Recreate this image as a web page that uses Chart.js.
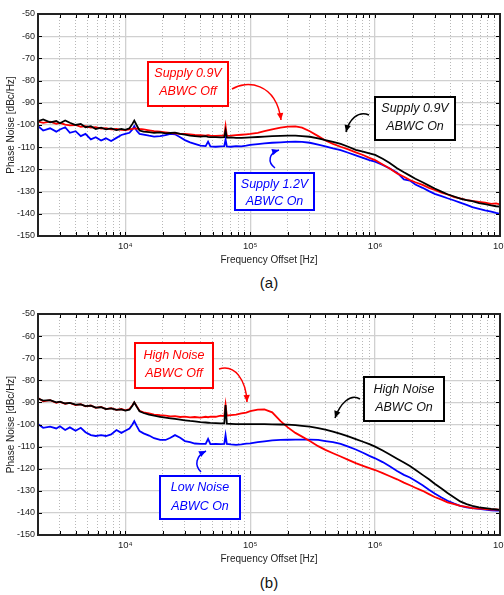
<!DOCTYPE html>
<html>
<head>
<meta charset="utf-8">
<script src="https://cdn.jsdelivr.net/npm/chart.js@4.4.0/dist/chart.umd.min.js"></script>
<style>
    html, body { margin: 0; padding: 0; background: #fff; }
    #wrap { position: relative; width: 504px; height: 595px; overflow: hidden; }
    canvas { position: absolute; left: 0; }
    #chartA { top: 0; }
    #chartB { top: 300px; }
    .cap { position: absolute; width: 40px; text-align: center; font: 15px 'Liberation Sans', Arial, sans-serif; line-height: 18px; color: #111; }
</style>
</head>
<body>
<div id="wrap">
    <canvas id="chartA" width="504" height="270"></canvas>
    <canvas id="chartB" width="504" height="270"></canvas>
    <div class="cap" style="left:249px; top:274px;">(a)</div>
    <div class="cap" style="left:249px; top:574px;">(b)</div>
</div>
<script>
// offset frequency points [Hz], shared by every trace
const freqs = [
    2000, 2200, 2500, 2800, 3000, 3300, 3600, 4000, 4400, 4800,
    5300, 5800, 6400, 7000, 7700, 8500, 9300, 10000, 10800, 11400,
    11800, 12300, 13000, 14000, 15500, 17000, 19000, 21000, 23000, 25000,
    27500, 30000, 33000, 36000, 40000, 44000, 46000, 48000, 53000, 58000,
    62000, 63500, 65000, 70000, 77000, 85000, 93000, 100000, 115000, 130000,
    150000, 175000, 200000, 230000, 260000, 300000, 350000, 400000, 460000, 530000,
    610000, 700000, 800000, 900000, 1000000, 1150000, 1300000, 1500000, 1700000, 1900000,
    2100000, 2400000, 2700000, 3000000, 3400000, 3800000, 4300000, 4800000, 5400000, 6000000,
    6800000, 7600000, 8500000, 9300000, 10000000
];

// (a) Supply 0.9V ABWC On
const blackA = [
    -98.3, -97.5, -98.8, -98.2, -99.2, -98.0, -99.0, -100.0, -99.5, -101.0,
    -100.5, -101.8, -101.2, -102.0, -101.5, -102.3, -101.8, -102.2, -101.5, -99.5,
    -98.0, -100.0, -102.5, -103.0, -103.2, -103.5, -103.3, -103.8, -103.6, -103.4,
    -104.0, -104.3, -104.8, -105.0, -105.2, -105.0, -105.3, -105.5, -105.5, -105.6,
    -105.5, -102.5, -105.7, -105.6, -105.8, -105.8, -105.7, -105.6, -105.4, -105.2,
    -105.0, -104.9, -104.8, -104.8, -105.0, -105.3, -106.0, -106.8, -107.6, -108.5,
    -109.8, -111.2, -112.0, -112.8, -113.5, -115.2, -117.0, -119.5, -121.3, -122.8,
    -124.2, -125.8, -127.3, -128.6, -130.0, -131.2, -132.2, -133.2, -133.8, -134.3,
    -135.2, -135.6, -136.2, -136.6, -136.8
];
// (a) Supply 0.9V ABWC Off
const redA = [
    -98.5, -99.0, -98.5, -99.5, -99.0, -99.8, -100.2, -100.0, -100.8, -100.5,
    -101.2, -101.0, -101.6, -101.4, -102.0, -101.8, -102.2, -102.3, -102.0, -101.8,
    -101.5, -101.6, -101.8, -102.0, -102.4, -102.8, -103.0, -103.3, -103.6, -103.8,
    -104.0, -104.0, -104.2, -104.5, -104.6, -104.8, -104.6, -104.8, -104.9, -104.8,
    -104.8, -100.5, -104.9, -104.8, -104.6, -104.4, -104.2, -104.0, -103.5, -102.8,
    -102.0, -101.2, -100.7, -100.6, -101.2, -102.8, -105.0, -107.0, -108.5, -109.8,
    -111.0, -112.3, -113.5, -114.8, -115.8, -117.8, -119.5, -121.8, -123.3, -124.8,
    -125.8, -127.0, -128.3, -129.2, -130.5, -131.3, -132.5, -133.0, -133.8, -134.2,
    -134.6, -135.0, -135.5, -135.3, -135.8
];
// (a) Supply 1.2V ABWC On
const blueA = [
    -100.5, -102.5, -101.5, -103.0, -102.0, -101.0, -103.5, -102.8, -105.0, -104.0,
    -106.5, -105.5, -107.0, -106.0, -107.2, -105.8, -104.5, -104.0, -103.5, -102.0,
    -100.5, -102.5, -104.0, -104.3, -104.8, -105.2, -105.0, -104.6, -104.0, -104.2,
    -105.5, -106.8, -107.8, -108.5, -109.3, -109.5, -107.5, -109.6, -109.8, -109.6,
    -109.5, -106.5, -109.6, -109.8, -109.5, -109.6, -109.3, -109.0, -108.6, -108.3,
    -108.0, -107.8, -107.6, -107.5, -107.6, -108.0, -108.8, -109.6, -110.5, -111.3,
    -112.5, -113.7, -114.8, -115.8, -116.5, -118.0, -119.5, -121.5, -124.5, -125.0,
    -126.8, -128.3, -129.8, -131.0, -132.0, -133.0, -134.0, -135.0, -136.0, -137.0,
    -137.8, -138.5, -139.0, -139.6, -140.0
];

// (b) High Noise ABWC On
const blackB = [
    -88.3, -89.2, -89.0, -90.0, -89.7, -90.5, -90.2, -91.0, -90.9, -91.7,
    -91.5, -92.4, -92.2, -93.0, -92.7, -93.4, -93.2, -93.7, -93.3, -91.5,
    -90.0, -91.8, -94.0, -94.8, -95.5, -96.0, -96.5, -96.9, -97.2, -97.5,
    -97.8, -98.1, -98.4, -98.6, -98.9, -99.1, -99.2, -99.3, -99.4, -99.5,
    -99.5, -91.2, -99.6, -99.7, -99.8, -99.8, -99.8, -99.8, -99.8, -99.8,
    -99.9, -100.0, -100.1, -100.3, -100.6, -101.0, -101.6, -102.3, -103.2, -104.2,
    -105.4, -106.6, -107.8, -108.9, -110.0, -111.8, -113.5, -115.5, -117.2, -118.8,
    -120.5, -122.8, -124.8, -126.8, -129.0, -131.0, -133.0, -134.8, -136.0, -136.8,
    -137.5, -137.8, -138.2, -138.4, -138.6
];
// (b) High Noise ABWC Off
const redB = [
    -88.0, -89.5, -89.0, -90.2, -89.8, -90.6, -90.2, -91.2, -90.8, -91.8,
    -91.4, -92.5, -92.0, -93.0, -92.6, -93.4, -93.0, -93.6, -93.0, -91.3,
    -90.0, -91.6, -93.8, -94.5, -95.0, -95.5, -95.8, -96.0, -96.3, -96.2,
    -96.6, -96.4, -96.8, -96.6, -96.9, -96.5, -96.7, -96.4, -96.5, -96.0,
    -96.2, -91.0, -96.0, -95.8, -95.5, -95.0, -94.6, -94.0, -93.3, -93.2,
    -94.5, -98.5, -101.3, -103.8, -105.5, -107.5, -109.8, -111.5, -113.0, -114.5,
    -116.0, -117.5, -118.7, -119.7, -120.6, -122.0, -123.3, -124.8, -126.3, -127.5,
    -128.6, -130.0, -131.5, -132.8, -134.0, -135.2, -136.0, -136.8, -137.3, -137.8,
    -138.0, -138.3, -138.5, -138.4, -138.6
];
// (b) Low Noise ABWC On
const blueB = [
    -99.8, -101.5, -101.0, -101.8, -100.8, -102.5, -101.3, -102.8, -101.5, -103.5,
    -104.8, -105.2, -104.8, -105.2, -104.5, -102.5, -103.8, -102.8, -101.8, -100.0,
    -98.5, -100.5, -103.0, -104.0, -105.0, -106.2, -107.0, -107.0, -106.0, -104.8,
    -106.0, -107.5, -108.0, -108.6, -108.8, -108.8, -106.5, -108.9, -108.8, -108.9,
    -108.8, -104.8, -108.8, -109.0, -109.2, -109.0, -108.7, -108.5, -108.0, -107.6,
    -107.2, -107.0, -106.9, -106.8, -106.8, -106.8, -107.0, -107.5, -108.0, -108.8,
    -110.0, -111.3, -112.8, -114.2, -115.3, -117.0, -118.8, -121.0, -122.8, -124.0,
    -125.5, -127.5, -129.5, -131.2, -133.0, -134.5, -135.8, -136.8, -137.5, -137.8,
    -138.2, -138.5, -138.8, -139.0, -139.0
];

// axes
const xMin = 2000;
const xMax = 1e7;
const xTickValues = [1e4, 1e5, 1e6, 1e7];
const xTickLabels = ['10\u2074', '10\u2075', '10\u2076', '10\u2077'];
const yMin = -150;
const yMax = -50;
const yStep = 10;

const NARROW = "'Liberation Sans Narrow', 'Arial Narrow', 'Liberation Sans', Arial, sans-serif";
const SANS = "'Liberation Sans', Arial, sans-serif";

// annotation boxes and arrows, canvas pixel coords
const notes = {
    chartA: {
        boxes: [
            { x: 148, y: 62, w: 80, h: 44, color: '#ff0000', lines: ['Supply 0.9V', 'ABWC Off'], ty: [74, 92] },
            { x: 375, y: 97, w: 80, h: 43, color: '#000000', lines: ['Supply 0.9V', 'ABWC On'], ty: [109, 127] },
            { x: 235, y: 173, w: 79, h: 37, color: '#0000ff', lines: ['Supply 1.2V', 'ABWC On'], ty: [185, 202] }
        ],
        arrows: [
            { color: '#ff0000', p: [232, 89, 246, 80, 276, 82, 281, 120] },
            { color: '#000000', p: [369, 115, 358, 110, 349, 120, 346, 132] },
            { color: '#0000ff', p: [275, 168, 267, 162, 269, 153, 279, 150] }
        ]
    },
    chartB: {
        boxes: [
            { x: 135, y: 43, w: 78, h: 45, color: '#ff0000', lines: ['High Noise', 'ABWC Off'], ty: [56, 74] },
            { x: 364, y: 77, w: 80, h: 44, color: '#000000', lines: ['High Noise', 'ABWC On'], ty: [90, 108] },
            { x: 160, y: 176, w: 80, h: 43, color: '#0000ff', lines: ['Low Noise', 'ABWC On'], ty: [188, 207] }
        ],
        arrows: [
            { color: '#ff0000', p: [219, 69, 235, 64, 246, 80, 247, 102] },
            { color: '#000000', p: [360, 99, 350, 93, 340, 104, 335, 118] },
            { color: '#0000ff', p: [201, 172, 194, 165, 196, 156, 206, 151] }
        ]
    }
};

function xGridValues() {
    const vals = [];
    for (let e = 3; e <= 7; e++) {
        for (let m = 1; m <= 9; m++) {
            const v = m * Math.pow(10, e);
            if (v >= xMin && v <= xMax) vals.push(v);
        }
    }
    return vals;
}

function drawArrow(ctx, a) {
    const [x0, y0, c1x, c1y, c2x, c2y, x1, y1] = a.p;
    ctx.strokeStyle = a.color;
    ctx.fillStyle = a.color;
    ctx.lineWidth = 1.5;
    ctx.beginPath();
    ctx.moveTo(x0, y0);
    ctx.bezierCurveTo(c1x, c1y, c2x, c2y, x1, y1);
    ctx.stroke();
    const ang = Math.atan2(y1 - c2y, x1 - c2x);
    const len = 7, half = 3.2;
    ctx.beginPath();
    ctx.moveTo(x1, y1);
    ctx.lineTo(x1 - len * Math.cos(ang) + half * Math.sin(ang), y1 - len * Math.sin(ang) - half * Math.cos(ang));
    ctx.lineTo(x1 - len * Math.cos(ang) - half * Math.sin(ang), y1 - len * Math.sin(ang) + half * Math.cos(ang));
    ctx.closePath();
    ctx.fill();
}

// frame, inward tick marks and the labelled call-outs
const framePlugin = {
    id: 'frame',
    afterDraw(chart) {
        const ctx = chart.ctx;
        const area = chart.chartArea;
        const xs = chart.scales.x;
        const ys = chart.scales.y;
        ctx.save();
        ctx.strokeStyle = '#000';
        ctx.lineWidth = 1;
        ctx.beginPath();
        xs.ticks.forEach(t => {
            const px = Math.round(xs.getPixelForValue(t.value)) + 0.5;
            ctx.moveTo(px, area.top);
            ctx.lineTo(px, area.top + 4);
            ctx.moveTo(px, area.bottom);
            ctx.lineTo(px, area.bottom - 4);
        });
        ys.ticks.forEach(t => {
            const py = Math.round(ys.getPixelForValue(t.value)) + 0.5;
            ctx.moveTo(area.left, py);
            ctx.lineTo(area.left + 4, py);
            ctx.moveTo(area.right, py);
            ctx.lineTo(area.right - 4, py);
        });
        ctx.stroke();

        ctx.strokeStyle = '#222';
        ctx.lineWidth = 2;
        ctx.strokeRect(area.left, area.top, area.right - area.left, area.bottom - area.top);

        const n = notes[chart.canvas.id];
        if (n) {
            n.arrows.forEach(a => drawArrow(ctx, a));
            n.boxes.forEach(b => {
                ctx.fillStyle = '#fff';
                ctx.fillRect(b.x, b.y, b.w, b.h);
                ctx.strokeStyle = b.color;
                ctx.lineWidth = 2;
                ctx.strokeRect(b.x, b.y, b.w, b.h);
                ctx.fillStyle = b.color === '#000000' ? '#111' : b.color;
                ctx.font = 'italic 12.5px ' + SANS;
                ctx.textAlign = 'center';
                ctx.textBaseline = 'middle';
                b.lines.forEach((txt, i) => ctx.fillText(txt, b.x + b.w / 2, b.ty[i]));
            });
        }
        ctx.restore();
    }
};

function buildChart(id, black, red, blue, xAxisHeight, titlePad) {
    const ctx = document.getElementById(id).getContext('2d');
    const series = [
        { values: black, color: '#000000' },
        { values: red, color: '#ff0000' },
        { values: blue, color: '#0000ff' }
    ];
    return new Chart(ctx, {
        type: 'line',
        data: {
            datasets: series.map(s => ({
                data: freqs.map((f, i) => ({ x: f, y: s.values[i] })),
                borderColor: s.color,
                borderWidth: 1.8,
                pointRadius: 0,
                tension: 0,
                fill: false
            }))
        },
        options: {
            responsive: false,
            animation: false,
            devicePixelRatio: 1,
            layout: { padding: { left: 0, right: 4, top: 14, bottom: 0 } },
            plugins: {
                legend: { display: false },
                tooltip: { enabled: false }
            },
            scales: {
                x: {
                    type: 'logarithmic',
                    min: xMin,
                    max: xMax,
                    afterBuildTicks: scale => {
                        scale.ticks = xGridValues().map(v => ({ value: v, major: xTickValues.includes(v) }));
                    },
                    afterFit: scale => {
                        scale.height = xAxisHeight;
                        scale.paddingLeft = 0;
                        scale.paddingRight = 0;
                    },
                    grid: {
                        drawTicks: false,
                        color: c => (c.tick && c.tick.major) ? '#d0d0d0' : '#b8b8b8',
                        lineWidth: c => (c.tick && c.tick.major) ? 1.3 : 1
                    },
                    border: {
                        display: false,
                        dash: c => (c.tick && !c.tick.major) ? [1, 2] : []
                    },
                    ticks: {
                        autoSkip: false,
                        maxRotation: 0,
                        padding: 5,
                        color: '#222',
                        font: { family: NARROW, size: 9.5 },
                        callback: v => {
                            const k = xTickValues.indexOf(v);
                            return k >= 0 ? xTickLabels[k] : '';
                        }
                    },
                    title: {
                        display: true,
                        text: 'Frequency Offset [Hz]',
                        color: '#222',
                        font: { family: NARROW, size: 10 },
                        padding: { top: 0, bottom: titlePad }
                    }
                },
                y: {
                    min: yMin,
                    max: yMax,
                    afterFit: scale => { scale.width = 38; },
                    grid: { drawTicks: false, color: '#d0d0d0', lineWidth: 1.3 },
                    border: { display: false },
                    ticks: {
                        stepSize: yStep,
                        padding: 3,
                        color: '#222',
                        font: { family: NARROW, size: 9 }
                    },
                    title: {
                        display: true,
                        text: 'Phase Noise [dBc/Hz]',
                        color: '#222',
                        font: { family: NARROW, size: 10 },
                        padding: { top: 5, bottom: 0 }
                    }
                }
            }
        },
        plugins: [framePlugin]
    });
}

function initCharts() {
    buildChart('chartA', blackA, redA, blueA, 34, 4);
    buildChart('chartB', blackB, redB, blueB, 35, 5);
}

document.addEventListener('DOMContentLoaded', initCharts);
</script>
</body>
</html>
